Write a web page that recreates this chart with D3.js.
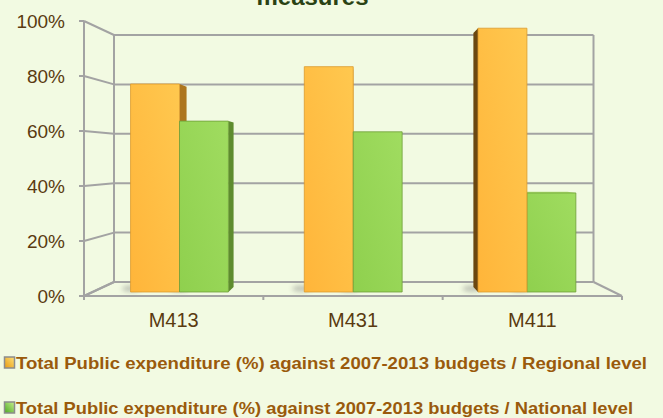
<!DOCTYPE html>
<html>
<head>
<meta charset="utf-8">
<script src="https://cdn.jsdelivr.net/npm/d3@7/dist/d3.min.js"></script>
<style>
  html, body { margin: 0; padding: 0; background: #f2fae2; }
  svg { display: block; }
</style>
</head>
<body>
<svg id="chart" width="663" height="418"></svg>
<script>
// ---- data ----
const categories = ["M413", "M431", "M411"];
const seriesNames = [
  "Total Public expenditure (%) against 2007-2013 budgets / Regional level",
  "Total Public expenditure (%) against 2007-2013 budgets / National level"
];
const regionalValues = [0.779, 0.844, 0.988];
const nationalValues = [0.640, 0.600, 0.371];
const yTickValues = [0, 0.2, 0.4, 0.6, 0.8, 1.0];
const titleText = "measures";

// ---- layout ----
const W = 663, H = 418;
const svg = d3.select("#chart");
const FONT = "'Liberation Sans', Arial, sans-serif";

const x0 = d3.scaleBand().domain(categories).range([84, 622]).paddingInner(0).paddingOuter(0);
const x1 = d3.scaleBand().domain([0, 1]).range([0, x0.bandwidth()]).paddingInner(0).paddingOuter(0.775);
const y = d3.scaleLinear().domain([0, 1]).range([296, 21]);

// perspective projection: front-plane coordinates (X, Y) at depth z in [0,1]
const VX = 360, VY = 158.5, KX = 0.122, KY = 0.1133;
function proj(X, Y, z) {
  const sx = 1 / (1 + KX * z), sy = 1 / (1 + KY * z);
  return [VX + (X - VX) * sx, VY + (Y - VY) * sy];
}
function line(a, b) { return "M" + a.join(",") + "L" + b.join(","); }
function poly(pts) { return "M" + pts.map(p => p.join(",")).join("L") + "Z"; }

const defs = svg.append("defs");
function grad(id, c1, c2, x2, y2) {
  const g = defs.append("linearGradient").attr("id", id)
    .attr("x1", 0).attr("y1", 1).attr("x2", x2).attr("y2", y2);
  g.append("stop").attr("offset", 0).attr("stop-color", c1);
  g.append("stop").attr("offset", 1).attr("stop-color", c2);
}
grad("gOrange", "#ffb53a", "#ffc84f", 1, 0);
grad("gGreen", "#8fd04e", "#a0dc60", 1, 0);
grad("gLegO", "#e89a10", "#ffe27a", 1, 0);
grad("gLegG", "#4aa820", "#c8f090", 1, 0);
defs.append("filter").attr("id", "blur").attr("x", "-50%").attr("y", "-50%").attr("width", "200%").attr("height", "200%")
  .append("feGaussianBlur").attr("stdDeviation", 2.5);

svg.append("rect").attr("width", W).attr("height", H).attr("fill", "#f2fae2");

// ---- title ----
svg.append("text").attr("x", 312.5).attr("y", 5).attr("text-anchor", "middle")
  .attr("font-family", FONT).attr("font-weight", "bold").attr("font-size", 24)
  .attr("fill", "#2a4214").text(titleText);

// ---- walls and grid ----
const grid = svg.append("g").attr("stroke", "#a3a3a3").attr("stroke-width", 2).attr("fill", "none");
const XL = x0.range()[0], XR = x0.range()[1];
yTickValues.forEach(v => {
  const Y = y(v);
  grid.append("path").attr("d", line(proj(XL, Y, 0), proj(XL, Y, 1)));   // side wall
  grid.append("path").attr("d", line(proj(XL, Y, 1), proj(XR, Y, 1)));   // back wall
  grid.append("path").attr("d", line([XL - 5, Y], [XL, Y]));             // tick mark
});
grid.append("path").attr("d", line(proj(XL, y(1), 1), proj(XL, y(0), 1)));
grid.append("path").attr("d", line(proj(XR, y(1), 1), proj(XR, y(0), 1)));
grid.append("path").attr("d", line(proj(XR, y(0), 0), proj(XR, y(0), 1)));
grid.append("path").attr("d", line([XL, y(1)], [XL, y(0) + 4]));

// ---- bars ----
const Z0 = 0.265, Z1 = 0.61;
const bars = [];
categories.forEach((c, i) => {
  [regionalValues[i], nationalValues[i]].forEach((v, s) => {
    const xl = x0(c) + x1(s), xr = xl + x1.bandwidth();
    bars.push({ c, s, v, xl, xr, cx: (xl + xr) / 2 });
  });
});
bars.sort((a, b) => Math.abs(b.cx - VX) - Math.abs(a.cx - VX));

const frontFill = ["url(#gOrange)", "url(#gGreen)"];
const rightSide = ["#ad761e", "#5e8c2e"];
const leftSide = ["#6b4710", "#4f7a22"];
const topFill = ["#ffd374", "#b4e474"];
const frontStroke = ["#dc9a2c", "#6e9e38"];

const gBars = svg.append("g");
// floor shadows
bars.forEach(b => {
  const p = proj(b.xl - 12, y(0), (Z0 + Z1) / 2);
  const q = proj(b.xl + 4, y(0), (Z0 + Z1) / 2);
  gBars.append("ellipse").attr("cx", (p[0] + q[0]) / 2).attr("cy", p[1] - 1)
    .attr("rx", (q[0] - p[0]) / 2 + 2).attr("ry", 3)
    .attr("fill", "#7a7a7a").attr("opacity", 0.45).attr("filter", "url(#blur)");
});
bars.forEach(b => {
  const Yt = y(b.v), Yb = y(0);
  const g = gBars.append("g");
  if (b.cx < VX) {
    g.append("path").attr("d", poly([proj(b.xr, Yt, Z0), proj(b.xr, Yt, Z1), proj(b.xr, Yb, Z1), proj(b.xr, Yb, Z0)]))
      .attr("fill", rightSide[b.s]);
  } else {
    g.append("path").attr("d", poly([proj(b.xl, Yt, Z0), proj(b.xl, Yt, Z1), proj(b.xl, Yb, Z1), proj(b.xl, Yb, Z0)]))
      .attr("fill", leftSide[b.s]);
  }
  if (Yt > VY) {
    g.append("path").attr("d", poly([proj(b.xl, Yt, Z0), proj(b.xr, Yt, Z0), proj(b.xr, Yt, Z1), proj(b.xl, Yt, Z1)]))
      .attr("fill", topFill[b.s]);
  }
  g.append("path").attr("d", poly([proj(b.xl, Yt, Z0), proj(b.xr, Yt, Z0), proj(b.xr, Yb, Z0), proj(b.xl, Yb, Z0)]))
    .attr("fill", frontFill[b.s]).attr("stroke", frontStroke[b.s]).attr("stroke-width", 0.8);
});

// ---- front floor line and category ticks ----
const front = svg.append("g").attr("stroke", "#a3a3a3").attr("stroke-width", 2).attr("fill", "none");
front.append("path").attr("d", line([XL, y(0)], [XR, y(0)]));
front.append("path").attr("d", line(proj(XL, y(0), 0), proj(XL, y(0), 1)));
[XL, ...categories.map(c => x0(c) + x0.bandwidth())].forEach(xv => {
  front.append("path").attr("d", line([xv, y(0)], [xv, y(0) + 4]));
});

// ---- axis labels ----
const fmt = d3.format(".0%");
svg.append("g").selectAll("text").data(yTickValues).join("text")
  .attr("x", 65).attr("y", d => y(d)).attr("dy", "0.36em").attr("text-anchor", "end")
  .attr("font-family", FONT).attr("font-size", 19).attr("fill", "#5a3a10")
  .text(d => fmt(d));
svg.append("g").selectAll("text").data(categories).join("text")
  .attr("x", c => x0(c) + x0.bandwidth() / 2).attr("y", 327).attr("text-anchor", "middle")
  .attr("font-family", FONT).attr("font-size", 20).attr("fill", "#5a3a10")
  .text(c => c);

// ---- legend ----
const legFills = ["url(#gLegO)", "url(#gLegG)"];
const legY = [357, 402];
const legLen = [631, 617];
seriesNames.forEach((name, i) => {
  svg.append("rect").attr("x", 4.5).attr("y", legY[i]).attr("width", 10).attr("height", 11)
    .attr("fill", legFills[i]).attr("stroke", "#8c8c8c").attr("stroke-width", 1.5);
  svg.append("text").attr("x", 16).attr("y", legY[i] + 12)
    .attr("font-family", FONT).attr("font-weight", "bold").attr("font-size", 16.5)
    .attr("textLength", legLen[i]).attr("lengthAdjust", "spacingAndGlyphs")
    .attr("fill", "#9a5a0c").text(name);
});
</script>
</body>
</html>
